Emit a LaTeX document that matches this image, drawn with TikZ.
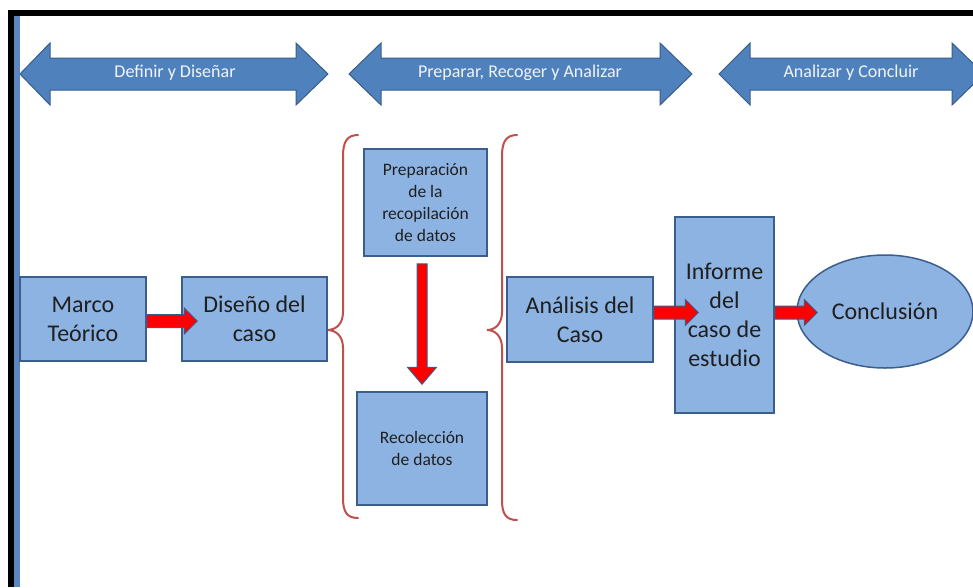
\documentclass[tikz,border=0pt]{standalone}
\usepackage{fontspec}
\setmainfont{Carlito}
\usetikzlibrary{calc,shapes.geometric}
\definecolor{arrowblue}{HTML}{4F81BD}
\definecolor{arrowedge}{HTML}{385D8A}
\definecolor{boxfill}{HTML}{8DB3E2}
\definecolor{boxedge}{HTML}{3B5E8C}
\definecolor{bracered}{HTML}{C0504D}
\definecolor{stripblue}{HTML}{5B86C0}
\newcommand{\hredarrow}[2]{%
  \path[redarrow] let \p1=(#1), \p2=(#2) in
    (\x1,\y1+6.5) -- (\x2-13,\y1+6.5) -- (\x2-13,\y1+13) -- (\x2,\y1)
    -- (\x2-13,\y1-13) -- (\x2-13,\y1-6.5) -- (\x1,\y1-6.5) -- cycle;}
\newcommand{\vredarrow}[2]{%
  \path[redarrow] let \p1=(#1), \p2=(#2) in
    (\x1-5,\y1) -- (\x1-5,\y2+17) -- (\x1-14.5,\y2+17) -- (\x1,\y2)
    -- (\x1+14.5,\y2+17) -- (\x1+5,\y2+17) -- (\x1+5,\y1) -- cycle;}
\newcommand{\dblarrowshape}[4]{%
  \draw[dblarrow] (#1,74) -- (#2,43) -- (#2,58) -- (#3,58) -- (#3,43) -- (#4,74)
    -- (#3,105) -- (#3,90) -- (#2,90) -- (#2,105) -- cycle;}
\begin{document}
\begin{tikzpicture}[x=1pt,y=-1pt,
  box/.style={draw=boxedge, fill=boxfill, line width=1.5pt, align=center,
    inner sep=2pt, font=\fontsize{24}{29}\selectfont, text=black!88},
  smallbox/.style={box, font=\fontsize{17.5}{22}\selectfont},
  phase/.style={text=white!92!arrowblue, font=\fontsize{18}{22}\selectfont, inner sep=0pt},
  redarrow/.style={fill=red, draw=arrowedge, line width=1pt, line join=miter},
  dblarrow/.style={fill=arrowblue, draw=arrowedge, line width=1pt, line join=miter},
  bracestyle/.style={draw=bracered, line width=2pt, line cap=round}
]
\useasboundingbox (0,0) rectangle (973,587);
\fill[white] (0,0) rectangle (973,587);
% frame
\fill[black] (8,10) rectangle (973,16);
\fill[black] (8,10) rectangle (14,587);
\fill[stripblue] (14,16) rectangle (20,587);

% phase arrows
\dblarrowshape{20}{50}{296}{328}
\node[phase] (ph1) at (175,73) {Definir y Diseñar};
\dblarrowshape{349}{381}{660}{692}
\node[phase] (ph2) at (520,73) {Preparar, Recoger y Analizar};
\dblarrowshape{719}{750}{952}{984}
\node[phase] (ph3) at (851,73) {Analizar y Concluir};

% braces
\draw[bracestyle] (358,135) .. controls (347,135) and (343,142) .. (343,156)
  -- (343,312) .. controls (343,324) and (336,330) .. (327,330)
  .. controls (336,330) and (343,336) .. (343,348)
  -- (343,498) .. controls (343,512) and (347,518) .. (358,518);
\draw[bracestyle] (517,135) .. controls (506,135) and (502,142) .. (502,156)
  -- (502,312) .. controls (502,324) and (495,330) .. (487,330)
  .. controls (495,330) and (502,336) .. (502,348)
  -- (502,500) .. controls (502,514) and (506,520) .. (517,520);

% boxes
\node[box, minimum width=126, minimum height=84] (marco) at (83,319) {Marco\\Teórico};
\node[box, minimum width=145, minimum height=84] (diseno) at (254.5,319) {Diseño del\\caso};
\node[smallbox, minimum width=123, minimum height=107] (prep) at (425.5,202.5)
  {Preparación\\de la\\recopilación\\de datos};
\node[smallbox, minimum width=130, minimum height=113] (rec) at (422,448.5)
  {Recolección\\de datos};
\node[box, minimum width=146, minimum height=85] (analisis) at (580,319.5) {Análisis del\\Caso};
\node[box, minimum width=99, minimum height=196] (informe) at (724.5,315)
  {Informe\\del\\caso de\\estudio};
\node[box, ellipse, inner sep=0pt, minimum width=176, minimum height=113] (concl) at (885,311.5)
  {Conclusión};

% connectors
\hredarrow{$(marco.east)+(0,2)$}{$(diseno.west)+(16,0)$}
\hredarrow{$(analisis.east)+(0,-7)$}{$(informe.west)+(24,0)$}
\hredarrow{$(informe.east)+(0,-2.5)$}{$(concl.west)+(21,0)$}
\coordinate (dtop) at ($(rec.north |- prep.south)+(0,7)$);
\coordinate (dtip) at ($(rec.north)+(0,-7)$);
\vredarrow{dtop}{dtip}
\end{tikzpicture}
\end{document}
